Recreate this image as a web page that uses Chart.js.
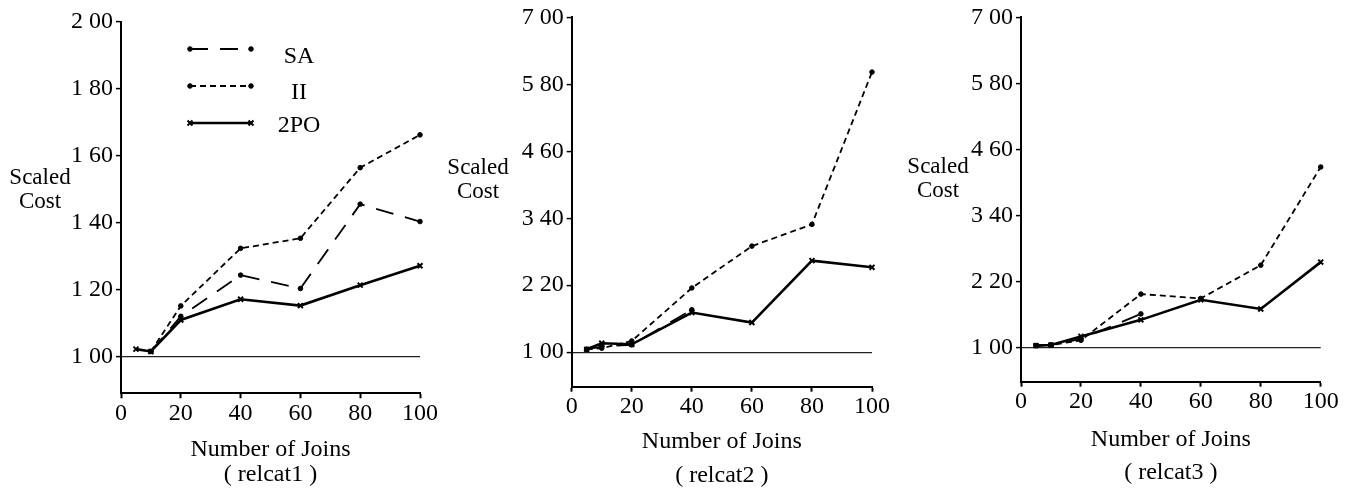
<!DOCTYPE html>
<html>
<head>
<meta charset="utf-8">
<script src="https://cdn.jsdelivr.net/npm/chart.js@4.4.1/dist/chart.umd.min.js"></script>
<style>
html,body{margin:0;padding:0;background:#fff;}
body{width:1353px;height:493px;position:relative;overflow:hidden;font-family:'Liberation Serif','Times New Roman',serif;}
.panel{position:absolute;top:0;height:493px;}
.ytitle{position:absolute;width:100px;text-align:center;font-size:23px;line-height:24px;color:#000;}
</style>
</head>
<body>
<div class="panel" style="left:0px;width:460px"><canvas id="c1"></canvas></div>
<div class="panel" style="left:460px;width:450px"><canvas id="c2"></canvas></div>
<div class="panel" style="left:910px;width:443px"><canvas id="c3"></canvas></div>
<div class="ytitle" style="left:-10px;top:165px">Scaled<br>Cost</div>
<div class="ytitle" style="left:428px;top:155px">Scaled<br>Cost</div>
<div class="ytitle" style="left:888px;top:154px">Scaled<br>Cost</div>
<script>
// ---------- data ----------
const joins = [5, 10, 20, 40, 60, 80, 100];
const xTicks = [0, 20, 40, 60, 80, 100];
const yTicks1 = [1.00, 1.20, 1.40, 1.60, 1.80, 2.00];
const yTicks23 = [1.00, 2.20, 3.40, 4.60, 5.80, 7.00];
const seriesNames = ['SA', 'II', '2PO'];
const xTitle = 'Number of Joins';
const panelNames = ['( relcat1 )', '( relcat2 )', '( relcat3 )'];

const relcat1SA  = [null, 1.015, 1.12, 1.243, 1.203, 1.455, 1.403];
const relcat1II  = [null, 1.015, 1.151, 1.323, 1.353, 1.564, 1.662];
const relcat1TPO = [1.022, 1.015, 1.109, 1.171, 1.152, 1.213, 1.271];

const relcat2SA  = [1.05, 1.10, 1.13, 1.76, null, null, null];
const relcat2II  = [1.05, 1.07, 1.20, 2.15, 2.90, 3.29, 6.02];
const relcat2TPO = [1.05, 1.16, 1.14, 1.71, 1.53, 2.64, 2.52];

const relcat3SA  = [1.04, 1.05, 1.16, 1.615, null, null, null];
const relcat3II  = [1.04, 1.05, 1.135, 1.975, 1.896, 2.50, 4.283];
const relcat3TPO = [1.04, 1.05, 1.207, 1.507, 1.873, 1.705, 2.556];

// ---------- styles ----------
const FONT = "'Liberation Serif', 'Times New Roman', serif";
const seriesStyle = {
  'SA':  {borderDash: [18, 12], borderWidth: 1.8, pointStyle: 'circle',   pointRadius: 2.3, pointBorderWidth: 1},
  'II':  {borderDash: [6, 4],   borderWidth: 1.8, pointStyle: 'circle',   pointRadius: 2.3, pointBorderWidth: 1},
  '2PO': {borderDash: [],       borderWidth: 2.6, pointStyle: 'crossRot', pointRadius: 3.5, pointBorderWidth: 2}
};

function makeDatasets(lists) {
  return seriesNames.map((name, k) => {
    const vals = lists[k];
    const pts = [];
    joins.forEach((x, i) => { if (vals[i] !== null) pts.push({x: x, y: vals[i]}); });
    return Object.assign({
      label: name, data: pts, borderColor: '#000', backgroundColor: '#000',
      pointBackgroundColor: '#000', pointBorderColor: '#000',
      tension: 0, clip: false, fill: false
    }, seriesStyle[name]);
  });
}

const inlineLegend = {
  id: 'inlineLegend',
  afterDatasetsDraw(chart, args, opts) {
    if (!opts || !opts.show) return;
    const ctx = chart.ctx;
    chart.data.datasets.forEach((ds, i) => {
      const y = opts.lineY[i];
      ctx.save();
      ctx.strokeStyle = '#000'; ctx.fillStyle = '#000';
      ctx.lineWidth = ds.borderWidth;
      ctx.setLineDash(ds.borderDash || []);
      ctx.beginPath(); ctx.moveTo(opts.x0, y); ctx.lineTo(opts.x1, y); ctx.stroke();
      ctx.setLineDash([]);
      ctx.lineWidth = ds.pointBorderWidth;
      [opts.x0, opts.x1].forEach(px => Chart.helpers.drawPoint(ctx,
        {pointStyle: ds.pointStyle, radius: ds.pointRadius, borderWidth: ds.pointBorderWidth, rotation: 0}, px, y));
      ctx.font = '24px ' + FONT;
      ctx.textAlign = 'center'; ctx.textBaseline = 'middle';
      ctx.fillText(ds.label, opts.textX, opts.textY[i]);
      ctx.restore();
    });
  }
};

function makePanel(id, lists, yMin, yMax, yTicks, titleIdx, lay) {
  const tickFont = {family: FONT, size: 24};
  return new Chart(document.getElementById(id), {
    type: 'line',
    data: {datasets: makeDatasets(lists)},
    plugins: [inlineLegend],
    options: {
      responsive: true, maintainAspectRatio: false, animation: false,
      devicePixelRatio: 1,
      layout: {padding: {left: 0, right: lay.right, top: lay.top, bottom: 0}},
      plugins: {
        legend: {display: false}, tooltip: {enabled: false},
        inlineLegend: lay.legend || {show: false}
      },
      scales: {
        x: {
          type: 'linear', min: 0, max: 100,
          afterBuildTicks: a => { a.ticks = xTicks.map(v => ({value: v})); },
          afterFit: a => { a.height = lay.xH; },
          ticks: {font: tickFont, color: '#000', padding: 1, maxRotation: 0, autoSkip: false},
          grid: {drawOnChartArea: false, drawTicks: true, tickLength: 5, tickColor: '#000', tickWidth: 2},
          border: {display: true, color: '#000', width: 2},
          title: {display: true, text: [xTitle, panelNames[titleIdx]], color: '#000',
                  font: {family: FONT, size: 24, lineHeight: lay.titleLH / 24},
                  padding: {top: 0, bottom: lay.titlePB}}
        },
        y: {
          type: 'linear', min: yMin, max: yMax,
          afterBuildTicks: a => { a.ticks = yTicks.map(v => ({value: v})); },
          afterFit: a => { a.width = lay.yW; },
          ticks: {font: tickFont, color: '#000', padding: 3,
                  callback: v => Number(v).toFixed(2).replace('.', ' ')},
          grid: {
            color: c => (c.tick && Math.abs(c.tick.value - 1) < 1e-9) ? '#222' : 'rgba(0,0,0,0)',
            lineWidth: 1.2, drawTicks: true, tickLength: 5, tickColor: '#000', tickWidth: 1.5
          },
          border: {display: true, color: '#000', width: 2}
        }
      }
    }
  });
}

makePanel('c1', [relcat1SA, relcat1II, relcat1TPO], 0.89, 2.0, yTicks1, 0,
  {right: 40, top: 21.7, xH: 493 - 393.3, yW: 121, titleLH: 25, titlePB: 5.5,
   legend: {show: true, x0: 190, x1: 251, lineY: [49, 86, 123], textX: 299, textY: [57, 93, 126]}});
makePanel('c2', [relcat2SA, relcat2II, relcat2TPO], 0.38, 7.0, yTicks23, 1,
  {right: 38, top: 13.3, xH: 493 - 386.7, yW: 111.7, titleLH: 34, titlePB: 0});
makePanel('c3', [relcat3SA, relcat3II, relcat3TPO], 0.384, 7.0, yTicks23, 2,
  {right: 32.3, top: 14, xH: 493 - 381.7, yW: 111, titleLH: 33, titlePB: 3.5});
</script>
</body>
</html>
